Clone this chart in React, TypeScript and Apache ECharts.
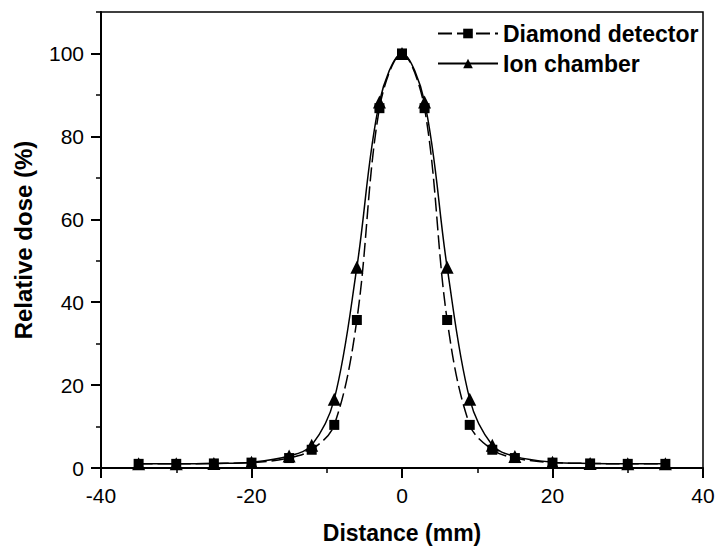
import React, { useEffect, useRef } from "react";
import * as echarts from "echarts";

const distances = [-35, -30, -25, -20, -15, -12, -9, -6, -3, 0, 3, 6, 9, 12, 15, 20, 25, 30, 35];
const diamondDose = [1.0, 1.0, 1.1, 1.3, 2.4, 4.4, 10.4, 35.7, 86.8, 100, 86.8, 35.7, 10.4, 4.4, 2.4, 1.3, 1.1, 1.0, 1.0];
const ionDose = [1.0, 1.0, 1.1, 1.4, 2.9, 5.5, 16.6, 48.4, 88.3, 100, 88.3, 48.4, 16.6, 5.5, 2.8, 1.4, 1.1, 1.0, 1.0];
const seriesNames = ["Diamond detector", "Ion chamber"];
const xTitle = "Distance (mm)";
const yTitle = "Relative dose (%)";

const FONT = '"Liberation Sans", Arial, Helvetica, sans-serif';

export default function App() {
  const ref = useRef<HTMLDivElement>(null);
  useEffect(() => {
    if (!ref.current) return;
    const chart = echarts.init(ref.current, null, { renderer: "svg" });
    const top = 12;
    const bottom = 86;
    const h = 554 - top - bottom;
    const top2 = top + h - (100 / 110) * h;
    const diamondData = distances.map((d, i) => [d, diamondDose[i]]);
    const ionData = distances.map((d, i) => [d, ionDose[i]]);
    chart.setOption({
      animation: false,
      backgroundColor: "#ffffff",
      textStyle: { fontFamily: FONT, color: "#000" },
      grid: [
        { left: 101, right: 17, top, bottom, show: true, borderColor: "#000", borderWidth: 1.5, backgroundColor: "transparent" },
        { left: 101, right: 17, top: top2, bottom, show: false },
      ],
      legend: {
        orient: "vertical",
        left: 432,
        top: 17,
        itemWidth: 60,
        itemHeight: 12,
        itemGap: 7,
        data: seriesNames,
        textStyle: { fontFamily: FONT, fontSize: 23, fontWeight: "bold", color: "#000" },
      },
      xAxis: [
        {
          type: "value",
          gridIndex: 0,
          min: -40,
          max: 40,
          interval: 20,
          name: xTitle,
          nameLocation: "middle",
          nameGap: 53,
          nameTextStyle: { fontFamily: FONT, fontSize: 23, fontWeight: "bold", color: "#000" },
          axisLine: { show: true, onZero: false, lineStyle: { color: "#000", width: 2 } },
          axisTick: { show: true, inside: false, length: 10, lineStyle: { color: "#000", width: 2 } },
          minorTick: { show: true, splitNumber: 2, length: 5, lineStyle: { color: "#000", width: 1.5 } },
          splitLine: { show: false },
          axisLabel: { fontFamily: FONT, fontSize: 21, color: "#000", margin: 17 },
        },
        {
          type: "value",
          gridIndex: 1,
          min: -40,
          max: 40,
          show: false,
        },
      ],
      yAxis: [
        {
          type: "value",
          gridIndex: 0,
          min: 0,
          max: 110,
          interval: 10,
          name: yTitle,
          nameLocation: "middle",
          nameGap: 66,
          nameTextStyle: { fontFamily: FONT, fontSize: 24, fontWeight: "bold", color: "#000" },
          axisLine: { show: true, onZero: false, lineStyle: { color: "#000", width: 2 } },
          axisTick: { show: true, inside: false, length: 5, lineStyle: { color: "#000", width: 1.5 } },
          splitLine: { show: false },
          axisLabel: {
            fontFamily: FONT,
            fontSize: 21,
            color: "#000",
            margin: 17,
            formatter: (v: number) => (v % 20 === 0 && v <= 100 ? String(v) : ""),
          },
        },
        {
          type: "value",
          gridIndex: 1,
          min: 0,
          max: 100,
          interval: 20,
          position: "left",
          axisLine: { show: false, onZero: false },
          axisTick: { show: true, inside: false, length: 10, lineStyle: { color: "#000", width: 2 } },
          axisLabel: { show: false },
          splitLine: { show: false },
        },
      ],
      series: [
        {
          name: seriesNames[0],
          type: "line",
          xAxisIndex: 0,
          yAxisIndex: 0,
          data: diamondData,
          smooth: 0.35,
          symbol: "rect",
          symbolSize: 10,
          itemStyle: { color: "#000" },
          lineStyle: { color: "#000", width: 1.5, type: [14, 5] },
          z: 3,
        },
        {
          name: seriesNames[1],
          type: "line",
          xAxisIndex: 0,
          yAxisIndex: 0,
          data: ionData,
          smooth: 0.35,
          symbol: "triangle",
          symbolSize: 13,
          itemStyle: { color: "#000" },
          lineStyle: { color: "#000", width: 1.5 },
          z: 2,
        },
      ],
    });
    return () => chart.dispose();
  }, []);
  return <div ref={ref} style={{ position: "fixed", left: 0, top: 0, width: 720, height: 554 }} />;
}
